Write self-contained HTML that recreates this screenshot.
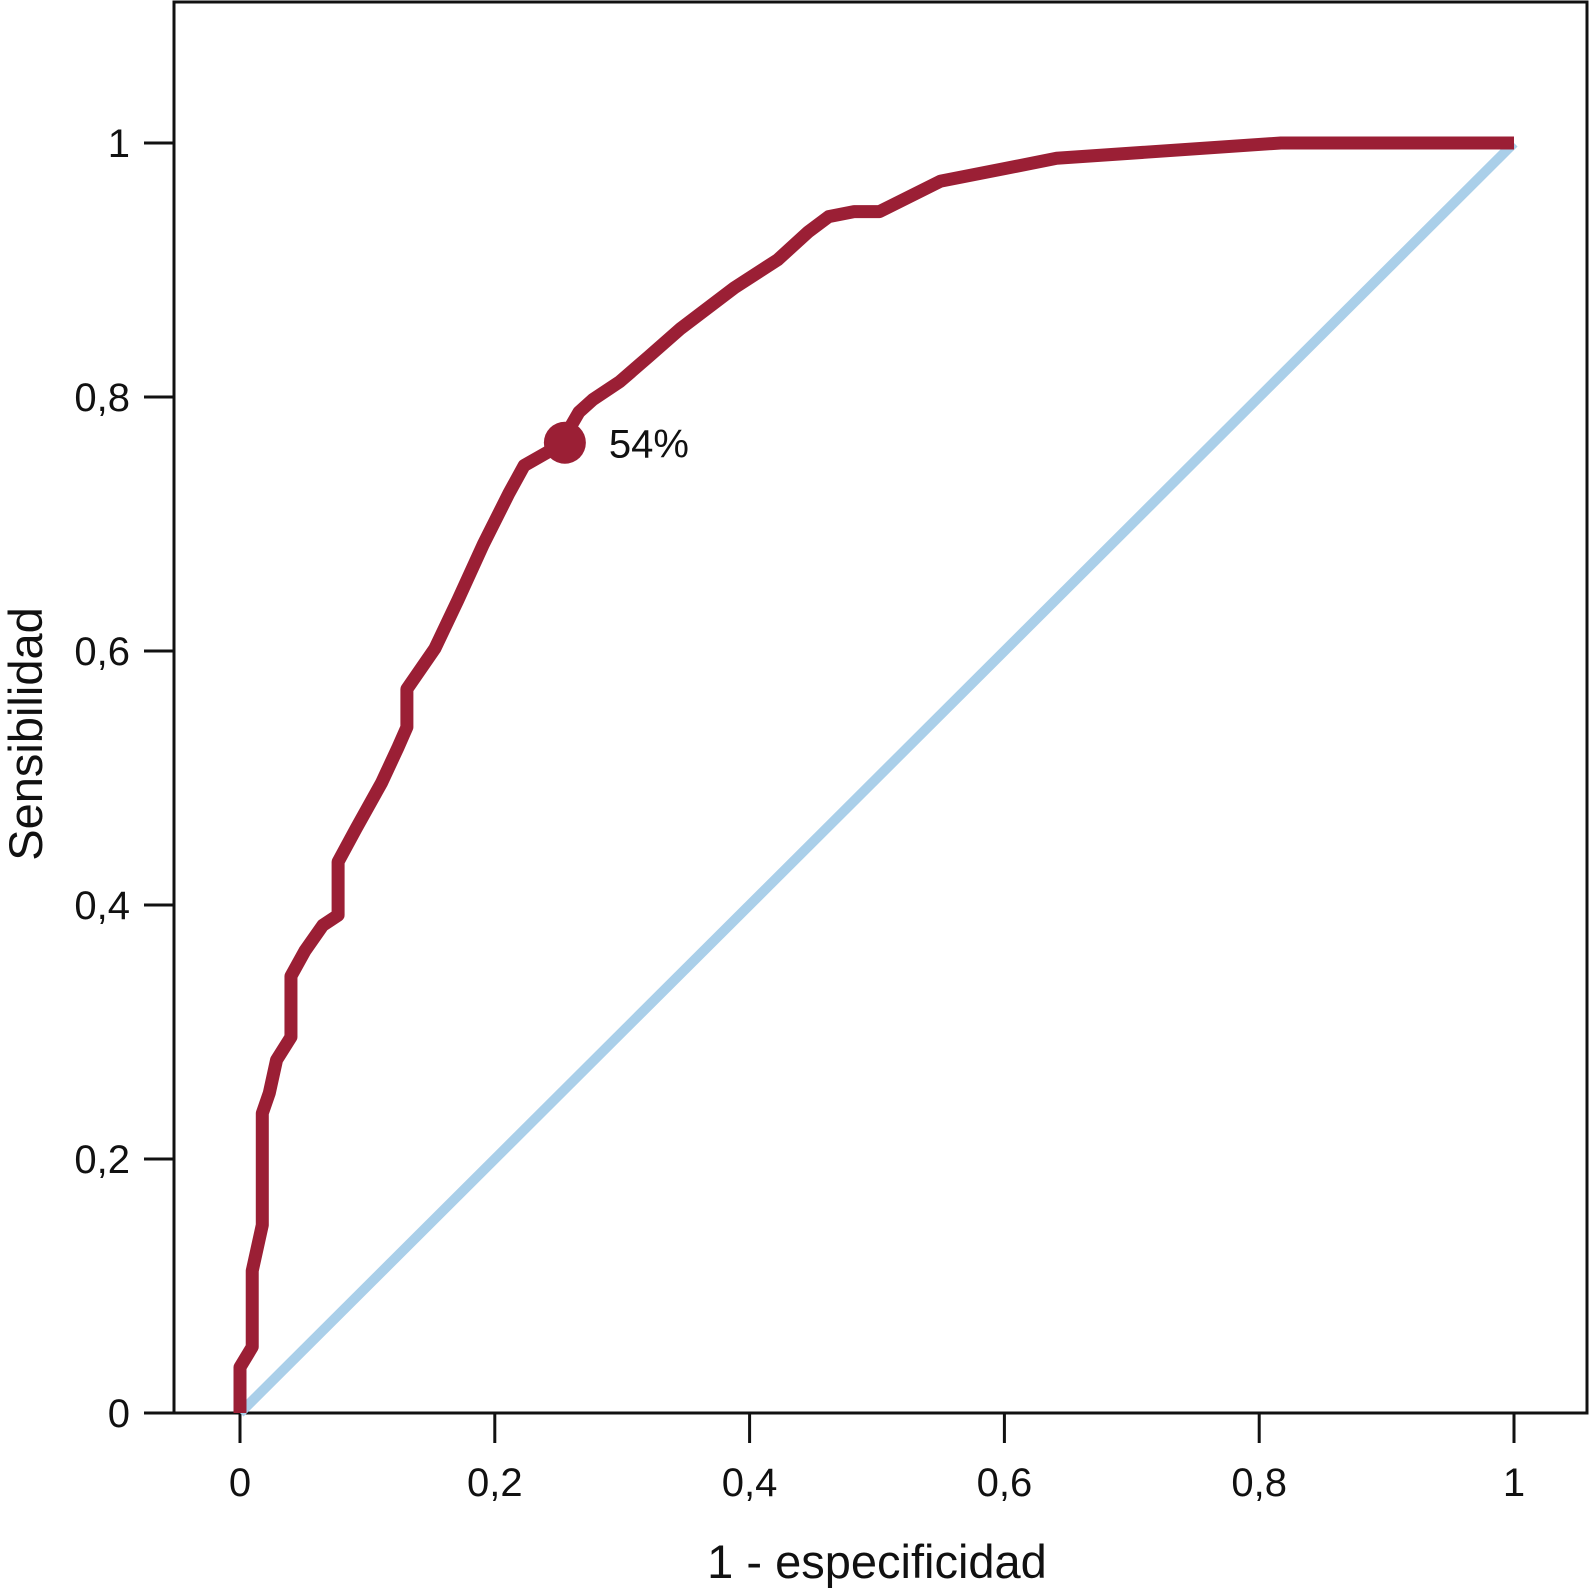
<!DOCTYPE html>
<html><head><meta charset="utf-8"><style>
html,body{margin:0;padding:0;background:#fff;}
svg{display:block;font-family:"Liberation Sans",sans-serif;}
</style></head><body>
<svg id="chart" width="1590" height="1594" viewBox="0 0 1590 1594" xmlns="http://www.w3.org/2000/svg">
<g id="plot"></g>
</svg>
<script>
const fpr=[0,0,0.0096,0.0096,0.0175,0.0175,0.023,0.0287,0.04,0.04,0.051,0.065,0.077,0.077,0.091,0.111,0.124,0.131,0.131,0.153,0.171,0.191,0.211,0.223,0.251,0.266,0.277,0.298,0.321,0.346,0.388,0.422,0.446,0.462,0.482,0.502,0.55,0.601,0.641,0.817,1];
const tpr=[0,0.036,0.052,0.112,0.148,0.236,0.252,0.278,0.296,0.344,0.364,0.384,0.392,0.434,0.46,0.496,0.524,0.54,0.57,0.602,0.64,0.684,0.724,0.746,0.762,0.788,0.798,0.812,0.832,0.854,0.886,0.908,0.93,0.942,0.946,0.946,0.97,0.98,0.988,1,1];
const cutX=[0.255];
const cutY=[0.764];
const cutLabel=["54%"];
const xTicks=[0,0.2,0.4,0.6,0.8,1];
const xTickLabels=["0","0,2","0,4","0,6","0,8","1"];
const yTicks=[0,0.2,0.4,0.6,0.8,1];
const yTickLabels=["0","0,2","0,4","0,6","0,8","1"];
const X=v=>240+v*(1514-240);
const Y=v=>1413-v*(1413-143);
const NS="http://www.w3.org/2000/svg";
const g=document.getElementById('plot');
function mk(t,a){const e=document.createElementNS(NS,t);for(const k in a)e.setAttribute(k,a[k]);g.appendChild(e);return e;}
let e;
e=mk('rect',{x:174,y:2,width:1413,height:1411,fill:'none',stroke:'#111',"stroke-width":3});


xTicks.forEach((t,i)=>{
 e=mk('line',{x1:X(t),x2:X(t),y1:1413,y2:1443,stroke:'#111',"stroke-width":3});
 
 
 e=mk('text',{x:X(t),y:1496,"font-size":40,"text-anchor":"middle",fill:'#111'});e.textContent=xTickLabels[i];
 
 
});
yTicks.forEach((t,i)=>{
 e=mk('line',{x1:144,x2:174,y1:Y(t),y2:Y(t),stroke:'#111',"stroke-width":3});
 
 
 e=mk('text',{x:130,y:Y(t)+14,"font-size":40,"text-anchor":"end",fill:'#111'});e.textContent=yTickLabels[i];
 
 
});
e=mk('line',{x1:X(0),y1:Y(0),x2:X(1),y2:Y(1),stroke:'#aacfe9',"stroke-width":10});


e=mk('polyline',{points:fpr.map((v,i)=>X(v)+','+Y(tpr[i])).join(' '),fill:'none',stroke:'#9b1f35',"stroke-width":13,"stroke-linejoin":"round"});


cutX.forEach((v,i)=>{
 e=mk('circle',{cx:X(v),cy:Y(cutY[i]),r:21,fill:'#9b1f35'});
 
 
 e=mk('text',{x:X(v)+44,y:Y(cutY[i])+15,"font-size":40,fill:'#111'});e.textContent=cutLabel[i];
 
 
});
e=mk('text',{x:(X(0)+X(1))/2,y:1578,"font-size":47,"text-anchor":"middle",fill:'#111'});e.textContent='1 - especificidad';


e=mk('text',{x:0,y:0,"font-size":47,"text-anchor":"middle",fill:'#111',transform:'translate(42,734) rotate(-90)'});e.textContent='Sensibilidad';


</script>
</body></html>
